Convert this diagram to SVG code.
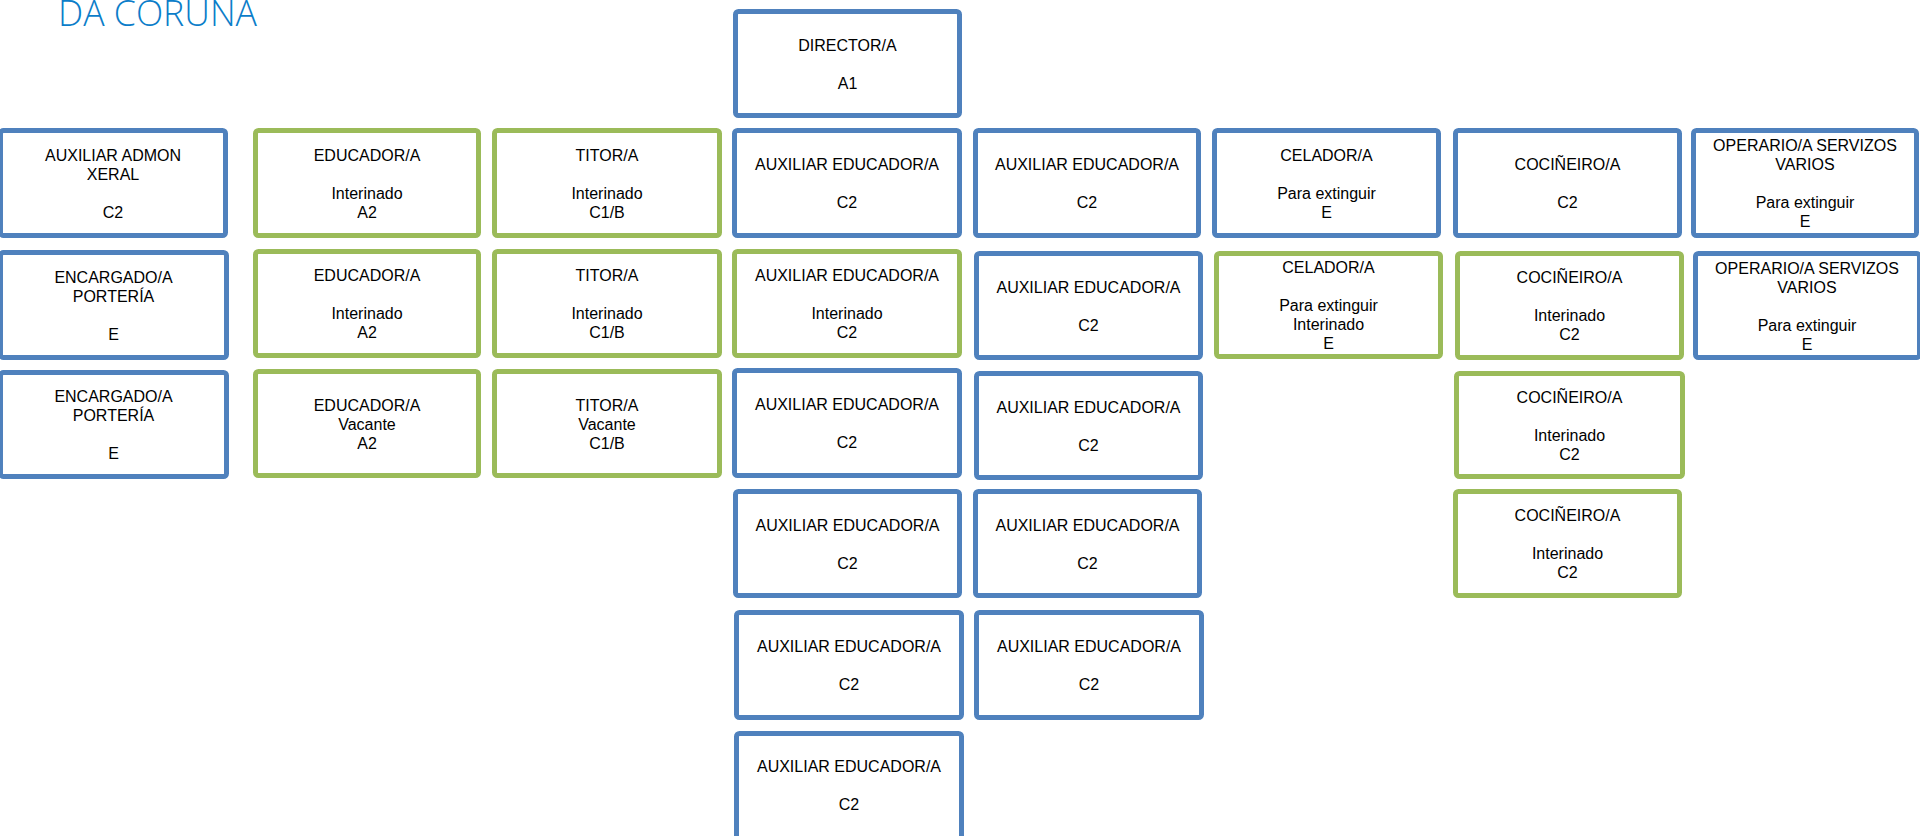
<svg xmlns="http://www.w3.org/2000/svg" width="1920" height="836" viewBox="0 0 1920 836">
<style>
.b{fill:#fff;stroke:#4f81bd;stroke-width:5}
.g{fill:#fff;stroke:#9bbb59;stroke-width:5}
text{font-family:"Liberation Sans",Arial,sans-serif;font-size:16px;fill:#000;text-anchor:middle}
.title{font-family:"Open Sans","Noto Sans",sans-serif;font-weight:300;font-size:36px;fill:#0b7dc9;text-anchor:start}
</style>
<rect width="1920" height="836" fill="#fff"/>
<text class="title" x="58" y="26" textLength="199" lengthAdjust="spacingAndGlyphs">DA CORUÑA</text>
<g id="connectors"></g>

<g id="director"><rect class="b" x="735.5" y="11.5" width="224" height="104" rx="3"/><text x="847.5"><tspan x="847.5" y="50.5">DIRECTOR/A</tspan><tspan x="847.5" y="88.5">A1</tspan></text></g>

<!-- Row 1 -->
<g id="aux-admon"><rect class="b" x="0.5" y="130.5" width="225" height="105" rx="3"/><text><tspan x="113" y="160.5">AUXILIAR ADMON</tspan><tspan x="113" y="179.5">XERAL</tspan><tspan x="113" y="217.5">C2</tspan></text></g>
<g id="educador-1"><rect class="g" x="255.5" y="130.5" width="223" height="105" rx="3"/><text><tspan x="367" y="160.5">EDUCADOR/A</tspan><tspan x="367" y="198.5">Interinado</tspan><tspan x="367" y="217.5">A2</tspan></text></g>
<g id="titor-1"><rect class="g" x="494.5" y="130.5" width="225" height="105" rx="3"/><text><tspan x="607" y="160.5">TITOR/A</tspan><tspan x="607" y="198.5">Interinado</tspan><tspan x="607" y="217.5">C1/B</tspan></text></g>
<g id="aux-educ-1"><rect class="b" x="734.5" y="130.5" width="225" height="105" rx="3"/><text><tspan x="847" y="170">AUXILIAR EDUCADOR/A</tspan><tspan x="847" y="208">C2</tspan></text></g>
<g id="aux-educ-2"><rect class="b" x="975.5" y="130.5" width="223" height="105" rx="3"/><text><tspan x="1087" y="170">AUXILIAR EDUCADOR/A</tspan><tspan x="1087" y="208">C2</tspan></text></g>
<g id="celador-1"><rect class="b" x="1214.5" y="130.5" width="224" height="105" rx="3"/><text><tspan x="1326.5" y="160.5">CELADOR/A</tspan><tspan x="1326.5" y="198.5">Para extinguir</tspan><tspan x="1326.5" y="217.5">E</tspan></text></g>
<g id="cocineiro-1"><rect class="b" x="1455.5" y="130.5" width="224" height="105" rx="3"/><text><tspan x="1567.5" y="170">COCIÑEIRO/A</tspan><tspan x="1567.5" y="208">C2</tspan></text></g>
<g id="operario-1"><rect class="b" x="1693.5" y="130.5" width="223" height="105" rx="3"/><text><tspan x="1805" y="151">OPERARIO/A SERVIZOS</tspan><tspan x="1805" y="170">VARIOS</tspan><tspan x="1805" y="208">Para extinguir</tspan><tspan x="1805" y="227">E</tspan></text></g>

<!-- Row 2 -->
<g id="encargado-1"><rect class="b" x="0.5" y="252.5" width="226" height="105" rx="3"/><text><tspan x="113.5" y="282.5">ENCARGADO/A</tspan><tspan x="113.5" y="301.5">PORTERÍA</tspan><tspan x="113.5" y="339.5">E</tspan></text></g>
<g id="educador-2"><rect class="g" x="255.5" y="251.5" width="223" height="104" rx="3"/><text><tspan x="367" y="281">EDUCADOR/A</tspan><tspan x="367" y="319">Interinado</tspan><tspan x="367" y="338">A2</tspan></text></g>
<g id="titor-2"><rect class="g" x="494.5" y="251.5" width="225" height="104" rx="3"/><text><tspan x="607" y="281">TITOR/A</tspan><tspan x="607" y="319">Interinado</tspan><tspan x="607" y="338">C1/B</tspan></text></g>
<g id="aux-educ-3"><rect class="g" x="734.5" y="251.5" width="225" height="104" rx="3"/><text><tspan x="847" y="281">AUXILIAR EDUCADOR/A</tspan><tspan x="847" y="319">Interinado</tspan><tspan x="847" y="338">C2</tspan></text></g>
<g id="aux-educ-4"><rect class="b" x="976.5" y="253.5" width="224" height="104" rx="3"/><text><tspan x="1088.5" y="292.5">AUXILIAR EDUCADOR/A</tspan><tspan x="1088.5" y="330.5">C2</tspan></text></g>
<g id="celador-2"><rect class="g" x="1216.5" y="253.5" width="224" height="103" rx="3"/><text><tspan x="1328.5" y="273">CELADOR/A</tspan><tspan x="1328.5" y="311">Para extinguir</tspan><tspan x="1328.5" y="330">Interinado</tspan><tspan x="1328.5" y="349">E</tspan></text></g>
<g id="cocineiro-2"><rect class="g" x="1457.5" y="253.5" width="224" height="104" rx="3"/><text><tspan x="1569.5" y="283">COCIÑEIRO/A</tspan><tspan x="1569.5" y="321">Interinado</tspan><tspan x="1569.5" y="340">C2</tspan></text></g>
<g id="operario-2"><rect class="b" x="1695.5" y="253.5" width="224" height="104" rx="3"/><text><tspan x="1807" y="273.5">OPERARIO/A SERVIZOS</tspan><tspan x="1807" y="292.5">VARIOS</tspan><tspan x="1807" y="330.5">Para extinguir</tspan><tspan x="1807" y="349.5">E</tspan></text></g>

<!-- Row 3 -->
<g id="encargado-2"><rect class="b" x="0.5" y="372.5" width="226" height="104" rx="3"/><text><tspan x="113.5" y="402">ENCARGADO/A</tspan><tspan x="113.5" y="421">PORTERÍA</tspan><tspan x="113.5" y="459">E</tspan></text></g>
<g id="educador-3"><rect class="g" x="255.5" y="371.5" width="223" height="104" rx="3"/><text><tspan x="367" y="410.5">EDUCADOR/A</tspan><tspan x="367" y="429.5">Vacante</tspan><tspan x="367" y="448.5">A2</tspan></text></g>
<g id="titor-3"><rect class="g" x="494.5" y="371.5" width="225" height="104" rx="3"/><text><tspan x="607" y="410.5">TITOR/A</tspan><tspan x="607" y="429.5">Vacante</tspan><tspan x="607" y="448.5">C1/B</tspan></text></g>
<g id="aux-educ-5"><rect class="b" x="734.5" y="370.5" width="225" height="105" rx="3"/><text><tspan x="847" y="410">AUXILIAR EDUCADOR/A</tspan><tspan x="847" y="448">C2</tspan></text></g>
<g id="aux-educ-6"><rect class="b" x="976.5" y="373.5" width="224" height="104" rx="3"/><text><tspan x="1088.5" y="412.5">AUXILIAR EDUCADOR/A</tspan><tspan x="1088.5" y="450.5">C2</tspan></text></g>
<g id="cocineiro-3"><rect class="g" x="1456.5" y="373.5" width="226" height="103" rx="3"/><text><tspan x="1569.5" y="402.5">COCIÑEIRO/A</tspan><tspan x="1569.5" y="440.5">Interinado</tspan><tspan x="1569.5" y="459.5">C2</tspan></text></g>

<!-- Row 4 -->
<g id="aux-educ-7"><rect class="b" x="735.5" y="491.5" width="224" height="104" rx="3"/><text><tspan x="847.5" y="530.5">AUXILIAR EDUCADOR/A</tspan><tspan x="847.5" y="568.5">C2</tspan></text></g>
<g id="aux-educ-8"><rect class="b" x="975.5" y="491.5" width="224" height="104" rx="3"/><text><tspan x="1087.5" y="530.5">AUXILIAR EDUCADOR/A</tspan><tspan x="1087.5" y="568.5">C2</tspan></text></g>
<g id="cocineiro-4"><rect class="g" x="1455.5" y="491.5" width="224" height="104" rx="3"/><text><tspan x="1567.5" y="521">COCIÑEIRO/A</tspan><tspan x="1567.5" y="559">Interinado</tspan><tspan x="1567.5" y="578">C2</tspan></text></g>

<!-- Row 5 -->
<g id="aux-educ-9"><rect class="b" x="736.5" y="612.5" width="225" height="105" rx="3"/><text><tspan x="849" y="652">AUXILIAR EDUCADOR/A</tspan><tspan x="849" y="690">C2</tspan></text></g>
<g id="aux-educ-10"><rect class="b" x="976.5" y="612.5" width="225" height="105" rx="3"/><text><tspan x="1089" y="652">AUXILIAR EDUCADOR/A</tspan><tspan x="1089" y="690">C2</tspan></text></g>

<!-- Row 6 -->
<g id="aux-educ-11"><rect class="b" x="736.5" y="733.5" width="225" height="120" rx="3"/><text><tspan x="849" y="772">AUXILIAR EDUCADOR/A</tspan><tspan x="849" y="810">C2</tspan></text></g>
</svg>
